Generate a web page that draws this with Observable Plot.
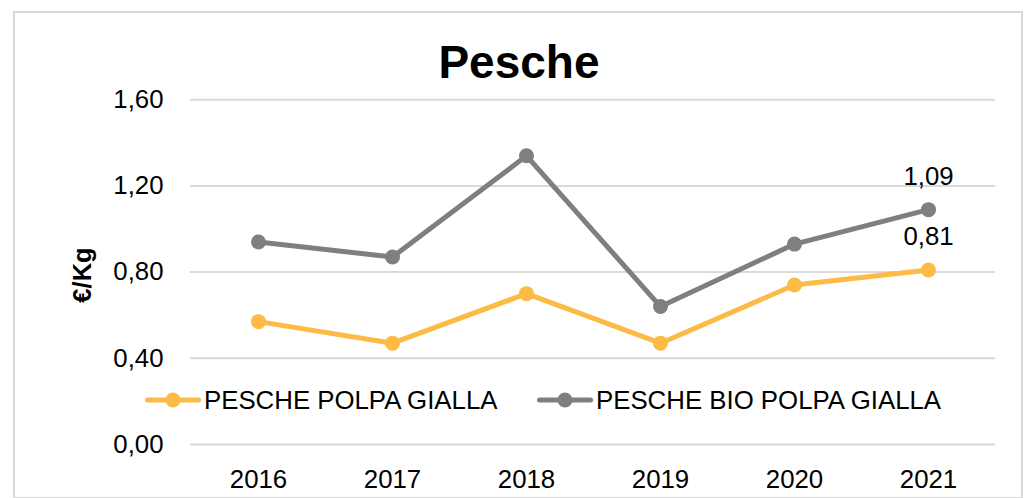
<!DOCTYPE html>
<html>
<head>
<meta charset="utf-8">
<script src="https://cdn.jsdelivr.net/npm/d3@7"></script>
<script src="https://cdn.jsdelivr.net/npm/@observablehq/plot@0.6"></script>
<style>
  body { margin: 0; background: #fff; font-family: "Liberation Sans", Arial, sans-serif; }
  #wrap { position: relative; width: 1026px; height: 498px; overflow: hidden; background: #fff; }
  #frame { position: absolute; left: 13px; top: 11px; width: 1006px; height: 484px; border: 2px solid #d9d9d9; }
  #chart { position: absolute; left: 0; top: 0; }
  #title { position: absolute; left: 6px; width: 1026px; top: 39px; text-align: center; font-weight: bold; font-size: 46px; line-height: 46px; color: #000; }
  #ylabel { position: absolute; left: 82px; top: 275px; transform: translate(-50%, -50%) rotate(-90deg); font-weight: bold; font-size: 25.5px; color: #000; white-space: nowrap; line-height: 26px; }
  .leg { position: absolute; top: 388px; height: 24px; display: flex; align-items: center; font-size: 25.8px; color: #000; white-space: nowrap; }
  .leg svg { margin-right: 3px; }
</style>
</head>
<body>
<div id="wrap">
  <div id="frame"></div>
  <div id="chart"></div>
  <div id="title"></div>
  <div id="ylabel"></div>
  <div id="legend"></div>
</div>
<script>
const years = ["2016", "2017", "2018", "2019", "2020", "2021"];
const seriesNames = ["PESCHE POLPA GIALLA", "PESCHE BIO POLPA GIALLA"];
const polpaGialla = [0.57, 0.47, 0.70, 0.47, 0.74, 0.81];
const bioPolpaGialla = [0.94, 0.87, 1.34, 0.64, 0.93, 1.09];
const yTicks = [0, 0.4, 0.8, 1.2, 1.6];
const colors = ["#FDBA45", "#7F7F7F"];
const titleText = "Pesche";
const yLabelText = "€/Kg";

const fmt = d => d.toFixed(2).replace(".", ",");

const data = [];
[polpaGialla, bioPolpaGialla].forEach((vals, i) => {
  vals.forEach((v, j) => data.push({ series: seriesNames[i], year: years[j], value: v }));
});
const lastPoints = data.filter(d => d.year === years[years.length - 1]);

const fs = 25.8;
const chart = Plot.plot({
  width: 1026,
  height: 498,
  marginLeft: 190,
  marginRight: 31,
  marginTop: 99.3,
  marginBottom: 54.1,
  style: { fontFamily: '"Liberation Sans", Arial, sans-serif', fontSize: fs + "px", color: "#000", background: "transparent", overflow: "visible" },
  x: { type: "point", domain: years, padding: 0.5 },
  y: { domain: [0, 1.6] },
  color: { domain: seriesNames, range: colors },
  marks: [
    Plot.ruleY(yTicks, { stroke: "#d9d9d9", strokeWidth: 2 }),
    Plot.axisY({ ticks: yTicks, tickSize: 0, tickPadding: 27, tickFormat: fmt, label: null, fontSize: fs, fill: "#000" }),
    Plot.axisX({ tickSize: 0, tickPadding: 25, label: null, fontSize: fs, fill: "#000" }),
    Plot.line(data, { x: "year", y: "value", z: "series", stroke: "series", strokeWidth: 5, strokeLinejoin: "round", strokeLinecap: "round" }),
    Plot.dot(data, { x: "year", y: "value", fill: "series", r: 7.5 }),
    Plot.text(lastPoints, { x: "year", y: "value", text: d => fmt(d.value), dy: -33, fontSize: fs, fill: "#000" })
  ]
});
document.getElementById("chart").appendChild(chart);
document.getElementById("title").textContent = titleText;
document.getElementById("ylabel").textContent = yLabelText;

const legendLefts = [145, 537];
const legend = document.getElementById("legend");
seriesNames.forEach((name, i) => {
  const item = document.createElement("div");
  item.className = "leg";
  item.style.left = legendLefts[i] + "px";
  item.innerHTML = `<svg width="56" height="18"><line x1="2.5" x2="53.5" y1="9" y2="9" stroke="${colors[i]}" stroke-width="5" stroke-linecap="round"/><circle cx="28" cy="9" r="7.5" fill="${colors[i]}"/></svg><span>${name}</span>`;
  legend.appendChild(item);
});
</script>
</body>
</html>
